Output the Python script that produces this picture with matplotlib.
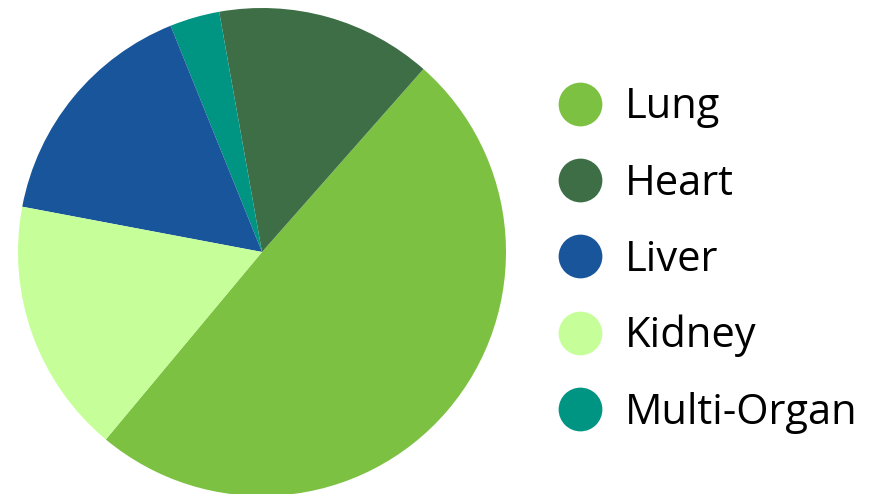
import matplotlib.pyplot as plt
from matplotlib.lines import Line2D

# legend order
labels = ['Lung', 'Heart', 'Liver', 'Kidney', 'Multi-Organ']
values = [49.5, 14.3, 15.9, 16.9, 3.3]
colors = ['#7DC142', '#3D6E45', '#18559A', '#C6FF99', '#009482']

# order of wedges around the pie (counter-clockwise, starting at Lung)
pie_order = ['Lung', 'Heart', 'Multi-Organ', 'Liver', 'Kidney']

plt.rcParams['font.family'] = ['Open Sans', 'DejaVu Sans']

fig = plt.figure(figsize=(8.79, 4.94), dpi=100)
ax = fig.add_axes([18 / 879, (494 - 252 - 244) / 494, 488 / 879, 488 / 494])

idx = [labels.index(n) for n in pie_order]
ax.pie([values[i] for i in idx], colors=[colors[i] for i in idx],
       startangle=230.2, counterclock=True, radius=1,
       wedgeprops=dict(linewidth=0))
ax.set_xlim(-1, 1)
ax.set_ylim(-1, 1)
ax.set_aspect('equal')
ax.axis('off')

handles = [Line2D([], [], marker='o', linestyle='', markersize=31.5,
                  markerfacecolor=c, markeredgecolor='none') for c in colors]
fig.legend(handles, labels, loc='center left', bbox_to_anchor=(559 / 879, 1 - 260 / 494),
           frameon=False, fontsize=30, handlelength=1.0, handletextpad=0.58,
           labelspacing=0.82, borderpad=0, borderaxespad=0)

fig.savefig('out.png', dpi=100)
